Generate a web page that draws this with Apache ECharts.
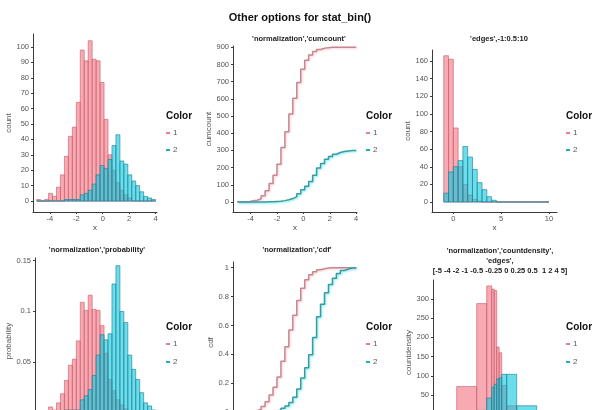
<!DOCTYPE html>
<html><head><meta charset="utf-8">
<script src="https://cdn.jsdelivr.net/npm/echarts@6/dist/echarts.min.js"></script>
<style>html,body{margin:0;padding:0;background:#fff}#c{width:600px;height:410px}</style>
</head><body><div id="c"></div>
<script>
// ---------- data ----------
const binEdges = [-5,-4.7,-4.4,-4.1,-3.8,-3.5,-3.2,-2.9,-2.6,-2.3,-2,-1.7,-1.4,-1.1,-0.8,-0.5,-0.2,0.1,0.4,0.7,1,1.3,1.6,1.9,2.2,2.5,2.8,3.1,3.4,3.7,4];
const countPink = [1,0,1,5,3,9,17,29,42,48,64,98,91,104,92,91,77,53,30,20,12,7,4,2,0,0,0,0,0,0];
const countTeal = [0,0,0,0,0,0,0,1,1,1,1,4,5,7,11,17,23,21,27,36,43,26,24,17,13,10,6,3,2,1];
const cumPink = [1,1,2,7,10,19,36,65,107,155,219,317,408,512,604,695,772,825,855,875,887,894,898,900,900,900,900,900,900,900];
const cumTeal = [0,0,0,0,0,0,0,1,2,3,4,8,13,20,31,48,71,92,119,155,198,224,248,265,278,288,294,297,299,300];
const edgesHalf = [-1,-0.5,0,0.5,1,1.5,2,2.5,3,3.5,4,4.5,5,5.5,6,6.5,7,7.5,8,8.5,9,9.5,10];
const edgesPink = [166,162,84,40,20,8,3,1,0,0,0,0,0,0,0,0,0,0,0,0,0,0];
const edgesTeal = [10,34,40,47,63,51,37,22,14,6,2,0,0,0,0,0,0,0,0,0,0,0];
const probPink = [0.001,0,0.001,0.006,0.003,0.010,0.019,0.032,0.047,0.053,0.071,0.109,0.101,0.116,0.102,0.101,0.086,0.059,0.033,0.022,0.013,0.008,0.004,0.002,0.001,0,0,0,0,0];
const probTeal = [0,0,0,0,0,0,0,0.003,0.003,0.003,0.003,0.013,0.017,0.023,0.037,0.057,0.077,0.072,0.078,0.127,0.145,0.100,0.089,0.057,0.043,0.033,0.020,0.010,0.007,0.003];
const cdfPink = [0.001,0.001,0.002,0.008,0.011,0.021,0.040,0.072,0.119,0.172,0.243,0.352,0.453,0.569,0.671,0.772,0.858,0.917,0.950,0.972,0.986,0.993,0.998,1,1,1,1,1,1,1];
const cdfTeal = [0,0,0,0,0,0,0,0.003,0.007,0.010,0.013,0.027,0.043,0.067,0.103,0.160,0.237,0.307,0.397,0.517,0.660,0.747,0.827,0.883,0.927,0.960,0.980,0.990,0.997,1];
const cdEdges = [-5,-4,-2,-1,-0.5,-0.25,0,0.25,0.5,1,2,4,5];
const cdPink = [1,72,288,334,326,322,175,160,75,22,2,0];
const cdTeal = [0,1,10,42,70,78,92,95,104,104,22,1];

const legendNames = ['1','2'];
const mainTitle = 'Other options for stat_bin()';
const panelTitles = ['', "'normalization','cumcount'", "'edges',-1:0.5:10", "'normalization','probability'", "'normalization','cdf'", "'normalization','countdensity',\n'edges',\n[-5 -4 -2 -1 -0.5 -0.25 0 0.25 0.5  1 2 4 5]"];
const yNames = ['count','cumcount','count','probability','cdf','countdensity'];
const yTicks = [[0,10,20,30,40,50,60,70,80,90,100],[0,100,200,300,400,500,600,700,800,900],[0,20,40,60,80,100,120,140,160],[0,0.05,0.1,0.15],[0,0.2,0.4,0.6,0.8,1],[0,50,100,150,200,250,300]];
const xTicks = [[-4,-2,0,2,4],[-4,-2,0,2,4],[0,5,10],[-4,-2,0,2,4],[-4,-2,0,2,4],[-5,0,5]];

// ---------- layout / style ----------
const grids = [
  {left:33, top:34, width:124, height:178, xr:[-5.28,4.11], yr:[-7.1,108.4]},
  {left:233, top:46, width:124, height:166, xr:[-5.33,4.06], yr:[-58.2,907.5]},
  {left:432, top:50, width:125, height:162, xr:[-2.23,10.84], yr:[-11.35,172.5]},
  {left:35, top:258, width:122, height:166, xr:[-5.13,4.11], yr:[-0.0108,0.1526]},
  {left:233, top:262, width:124, height:161, xr:[-5.33,4.06], yr:[-0.0747,1.039]},
  {left:433, top:280, width:124, height:145, xr:[-6.37,6.03], yr:[-28.1,349.5]}
];
const FONT = 'Liberation Sans, Arial, Helvetica, sans-serif';
const AX = '#3a3a3a';
const PINK_FILL = 'rgba(240,100,115,0.55)', PINK_EDGE = 'rgba(205,95,110,0.8)';
const TEAL_FILL = 'rgba(13,198,222,0.6)', TEAL_EDGE = 'rgba(25,130,150,0.8)';
const PINK_LEG = '#E8808C', TEAL_LEG = '#1FB0BE';
const PINK_LINE = '#C7868E', TEAL_LINE = '#3A9A9C';

function histData(edges, vals){ return vals.map((v,i)=>[edges[i], edges[i+1], v]); }
function stepData(edges, vals){ return edges.map((e,i)=>[e, vals[Math.min(i, vals.length-1)]]); }
function histSeries(name, gi, data, fill, stroke, legColor){
  return {type:'custom', name, xAxisIndex:gi, yAxisIndex:gi, data, itemStyle:{color:legColor},
    encode:{x:[0,1], y:2},
    renderItem:(params, api)=>{
      const a = api.coord([api.value(0), api.value(2)]);
      const b = api.coord([api.value(1), 0]);
      return {type:'rect', shape:{x:a[0], y:a[1], width:b[0]-a[0], height:b[1]-a[1]},
        style:{fill, stroke, lineWidth:0.8}};
    }};
}
function lineSeries(name, gi, data, color, legColor, glow){
  return {type:'line', name, xAxisIndex:gi, yAxisIndex:gi, data, step:'end', symbol:'none',
    lineStyle:{color, width:1.5, shadowColor:glow, shadowBlur:2, shadowOffsetX:1, shadowOffsetY:1},
    itemStyle:{color:legColor}};
}

const xAxis = grids.map((g,i)=>({type:'value', gridIndex:i, min:g.xr[0], max:g.xr[1],
  name: i<3 ? 'x' : '', nameLocation:'middle', nameGap:10,
  nameTextStyle:{fontSize:8, color:'#444', fontFamily:FONT},
  axisLine:{onZero:false, lineStyle:{color:AX, width:1}},
  axisTick:{customValues:xTicks[i], length:2, lineStyle:{color:AX}},
  axisLabel:{customValues:xTicks[i], fontSize:7.5, color:'#555', margin:3, fontFamily:FONT},
  splitLine:{show:false}}));
const yAxis = grids.map((g,i)=>({type:'value', gridIndex:i, min:g.yr[0], max:g.yr[1],
  name: yNames[i], nameLocation:'middle', nameGap:[17,20,17,20,17,20][i],
  nameTextStyle:{fontSize:8, color:'#555', fontFamily:FONT},
  axisLine:{onZero:false, lineStyle:{color:AX, width:1}},
  axisTick:{customValues:yTicks[i], length:2, lineStyle:{color:AX}},
  axisLabel:{customValues:yTicks[i], fontSize:7.5, color:'#555', margin:4, fontFamily:FONT},
  splitLine:{show:false}}));

const series = [
  histSeries('1',0,histData(binEdges,countPink),PINK_FILL,PINK_EDGE,PINK_LEG),
  histSeries('2',0,histData(binEdges,countTeal),TEAL_FILL,TEAL_EDGE,TEAL_LEG),
  lineSeries('1',1,stepData(binEdges,cumPink),PINK_LINE,PINK_LEG,'rgba(250,190,200,0.7)'),
  lineSeries('2',1,stepData(binEdges,cumTeal),TEAL_LINE,TEAL_LEG,'rgba(100,230,245,0.8)'),
  histSeries('1',2,histData(edgesHalf,edgesPink),PINK_FILL,PINK_EDGE,PINK_LEG),
  histSeries('2',2,histData(edgesHalf,edgesTeal),TEAL_FILL,TEAL_EDGE,TEAL_LEG),
  histSeries('1',3,histData(binEdges,probPink),PINK_FILL,PINK_EDGE,PINK_LEG),
  histSeries('2',3,histData(binEdges,probTeal),TEAL_FILL,TEAL_EDGE,TEAL_LEG),
  lineSeries('1',4,stepData(binEdges,cdfPink),PINK_LINE,PINK_LEG,'rgba(250,190,200,0.7)'),
  lineSeries('2',4,stepData(binEdges,cdfTeal),TEAL_LINE,TEAL_LEG,'rgba(100,230,245,0.8)'),
  histSeries('1',5,histData(cdEdges,cdPink),PINK_FILL,PINK_EDGE,PINK_LEG),
  histSeries('2',5,histData(cdEdges,cdTeal),TEAL_FILL,TEAL_EDGE,TEAL_LEG)
];

const legX = [166,366,566,166,366,566];
const legY = [116,116,116,327,327,327];
const legend = legX.map((x,i)=>({left:x, top:legY[i]+12, orient:'vertical', data:legendNames,
  icon:'rect', itemWidth:4, itemHeight:2, itemGap: i<3 ? 7 : 8, padding:0, selectedMode:false,
  textStyle:{fontSize:8, color:'#555', fontFamily:FONT, lineHeight:10, padding:[0,0,0,-2]}}));

const titlePos = [null,[299,38],[499,38],[97,249],[297,249],[500,250]];
const graphic = [];
titlePos.forEach((p,i)=>{ if(!p) return;
  graphic.push({type:'text', x:p[0], y:p[1]-4, style:{text:panelTitles[i], align:'center', verticalAlign:'top',
    fontSize:7.5, fontWeight:'bold', fill:'#222', fontFamily:FONT, lineHeight:10}});
});
legX.forEach((x,i)=>{
  graphic.push({type:'text', x:x, y:legY[i], style:{text:'Color', align:'left', verticalAlign:'middle',
    fontSize:10, fontWeight:'bold', fill:'#111', fontFamily:FONT}});
});

const chart = echarts.init(document.getElementById('c'), null, {renderer:'canvas'});
chart.setOption({
  animation:false,
  backgroundColor:'#fff',
  title:{text:mainTitle, left:'center', top:7, textStyle:{fontSize:11, fontWeight:'bold', color:'#111', fontFamily:FONT}},
  grid: grids.map(g=>({left:g.left, top:g.top, width:g.width, height:g.height, outerBoundsMode:'none', containLabel:false})),
  xAxis, yAxis, series, legend, graphic
});
</script></body></html>
